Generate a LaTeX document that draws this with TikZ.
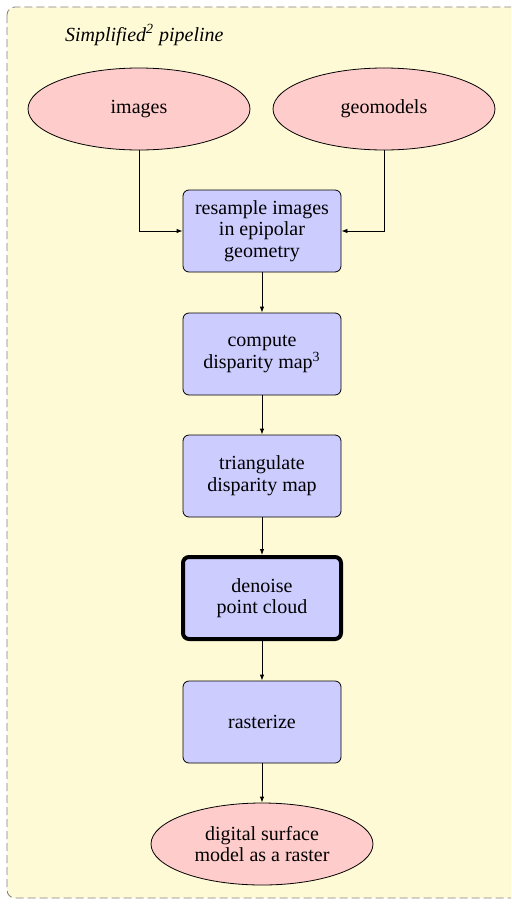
\documentclass[tikz,border=0pt]{standalone}
\usepackage{fontspec}
\setmainfont{LiberationSerif}[Extension=.ttf, UprightFont=*-Regular, ItalicFont=*-Italic, BoldFont=*-Bold, BoldItalicFont=*-BoldItalic]
\usetikzlibrary{arrows.meta,shapes.geometric}
\definecolor{bgyellow}{RGB}{255,250,214}
\definecolor{pinkfill}{RGB}{255,204,204}
\definecolor{bluefill}{RGB}{204,204,255}
\tikzset{
  stage/.style={draw, rounded corners=3pt, fill=bluefill, minimum width=79pt, minimum height=41pt, align=center, inner sep=2pt, font=\fontsize{10}{10.8}\selectfont},
  data/.style={draw, ellipse, fill=pinkfill, minimum width=111pt, minimum height=41pt, align=center, inner sep=1pt, font=\fontsize{10}{10.8}\selectfont},
  arr/.style={-{Latex[length=3pt,width=2.2pt]}, line width=0.4pt},
}
\begin{document}
\begin{tikzpicture}[x=0.5pt,y=-0.5pt]
\useasboundingbox (0,0) rectangle (511,905);
\clip (0,0) rectangle (511,905);
\draw[gray, dash pattern=on 4pt off 2pt, fill=bgyellow, rounded corners=4pt] (7,7) rectangle (530,898);
\node[anchor=base west, font=\itshape\fontsize{10}{12}\selectfont] (title) at (58,41) {Simplified\textsuperscript{2} pipeline};
\node[data] (images) at (139,109) {images};
\node[data] (geo) at (384,109) {geomodels};
\node[stage] (resample) at (262,231) {resample images\\in epipolar\\geometry};
\node[stage] (disp) at (262,354) {compute\\disparity map\textsuperscript{3}};
\node[stage] (tri) at (262,476) {triangulate\\disparity map};
\node[stage, line width=2pt] (denoise) at (262,598) {denoise\\point cloud};
\node[stage] (raster) at (262,722) {rasterize};
\node[data] (dsm) at (262,844) {digital surface\\model as a raster};
\draw[arr] (images) |- (resample);
\draw[arr] (geo) |- (resample);
\draw[arr] (resample) -- (disp);
\draw[arr] (disp) -- (tri);
\draw[arr] (tri) -- (denoise);
\draw[arr] (denoise) -- (raster);
\draw[arr] (raster) -- (dsm);
\end{tikzpicture}
\end{document}
